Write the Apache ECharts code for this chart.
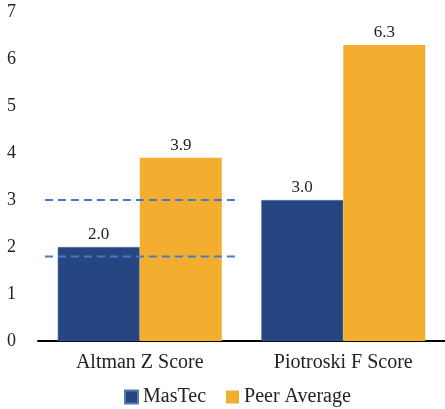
<!DOCTYPE html>
<html>
<head>
<meta charset="utf-8">
<script src="https://cdn.jsdelivr.net/npm/echarts@6/dist/echarts.min.js"></script>
<style>
  html, body { margin: 0; padding: 0; background: #fff; }
  #chart { width: 445px; height: 409px; }
</style>
</head>
<body>
<div id="chart"></div>
<script>
// Scores by metric
const categories = ['Altman Z Score', 'Piotroski F Score'];
const mastec = [2.0, 3.0];
const peerAverage = [3.9, 6.3];
const yTicks = [0, 1, 2, 3, 4, 5, 6, 7];

// Altman Z zone thresholds (distress / safe), drawn across the first group
const zThresholds = [1.8, 3.0];
const thresholdSpan = [-0.466, 0.478];

const FONT = 'Liberation Serif, DejaVu Serif, serif';
const BLUE = '#254681';
const GOLD = '#f4ae2f';

const chart = echarts.init(document.getElementById('chart'), null, { renderer: 'canvas' });

const thresholdSeries = zThresholds.map((v, i) => ({
  name: 'threshold' + i,
  type: 'line',
  xAxisIndex: 1,
  yAxisIndex: 0,
  data: thresholdSpan.map(x => [x, v]),
  symbol: 'none',
  silent: true,
  z: 5,
  lineStyle: { color: '#4a78c8', width: 2, type: [8, 5] }
}));

chart.setOption({
  animation: false,
  textStyle: { fontFamily: FONT },
  grid: { left: 38, right: 0, top: 12, bottom: 68 },
  legend: {
    data: ['MasTec', 'Peer Average'],
    bottom: 2,
    left: 124,
    padding: 0,
    itemWidth: 13,
    itemHeight: 13,
    itemGap: 20,
    icon: 'rect',
    textStyle: { fontFamily: FONT, fontSize: 20, color: '#222' }
  },
  xAxis: [
    {
      type: 'category',
      data: categories,
      axisLine: { lineStyle: { color: '#000', width: 2 } },
      axisTick: { show: false },
      axisLabel: { fontFamily: FONT, fontSize: 20, color: '#222', margin: 12 }
    },
    {
      type: 'value',
      min: -0.5,
      max: 1.5,
      show: false
    }
  ],
  yAxis: {
    type: 'value',
    min: yTicks[0],
    max: yTicks[yTicks.length - 1],
    interval: 1,
    axisLine: { show: false },
    axisTick: { show: false },
    splitLine: { show: false },
    axisLabel: { fontFamily: FONT, fontSize: 18, color: '#222', margin: 22 }
  },
  series: [
    {
      name: 'MasTec',
      type: 'bar',
      data: mastec,
      barGap: '0%',
      barCategoryGap: '19.4%',
      itemStyle: { color: BLUE, borderColor: '#5b78aa', borderWidth: 0.5 },
      label: {
        show: true, position: 'top', distance: 4,
        formatter: p => p.value.toFixed(1),
        fontFamily: FONT, fontSize: 17, color: '#222'
      }
    },
    {
      name: 'Peer Average',
      type: 'bar',
      data: peerAverage,
      itemStyle: { color: GOLD },
      label: {
        show: true, position: 'top', distance: 4,
        formatter: p => p.value.toFixed(1),
        fontFamily: FONT, fontSize: 17, color: '#222'
      }
    },
    ...thresholdSeries
  ]
});
</script>
</body>
</html>
